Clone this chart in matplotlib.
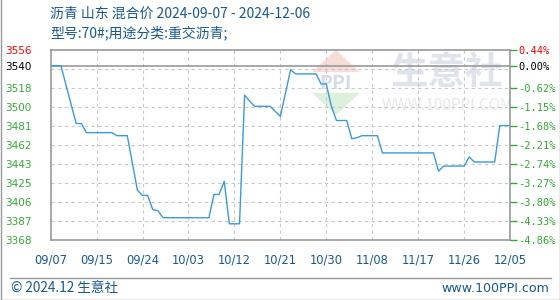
import numpy as np
import matplotlib
matplotlib.use('Agg')
import matplotlib.pyplot as plt
from matplotlib.patches import Polygon

plt.rcParams['font.family'] = ['Noto Sans CJK SC', 'DejaVu Sans']

# daily prices 2024-09-07 .. 2024-12-06
prices = [3540, 3540, 3540, 3521, 3502, 3483, 3483, 3474, 3474, 3474,
          3474, 3474, 3474, 3471, 3471, 3471, 3444, 3417, 3412, 3412,
          3398, 3397, 3390, 3390, 3390, 3390, 3390, 3390, 3390, 3390,
          3390, 3390, 3413, 3413, 3426, 3384, 3384, 3384, 3511, 3505,
          3500, 3500, 3500, 3500, 3495, 3490, 3513, 3536, 3532, 3532,
          3532, 3532, 3532, 3522, 3522, 3500, 3486, 3486, 3486, 3468,
          3469, 3471, 3471, 3471, 3471, 3454, 3454, 3454, 3454, 3454,
          3454, 3454, 3454, 3454, 3454, 3454, 3436, 3441, 3441, 3441,
          3441, 3441, 3450, 3445, 3445, 3445, 3445, 3445, 3481, 3481,
          3481]
base = 3540
ymin, ymax = 3368, 3555.6
grid_vals = list(ymin + (ymax - ymin) / 10 * np.arange(10))
left_labels = ['3368', '3387', '3406', '3425', '3443', '3462', '3481', '3500', '3518']
right_labels = ['-4.86%', '-4.33%', '-3.80%', '-3.27%', '-2.74%', '-2.21%', '-1.68%', '-1.15%', '-0.62%']
date_labels = ['09/07', '09/15', '09/24', '10/03', '10/12', '10/21',
               '10/30', '11/08', '11/17', '11/26', '12/05']

green = '#33aa33'
blue_txt = '#17598f'

fig = plt.figure(figsize=(5.6, 3.0), dpi=100)
ax = fig.add_axes([50.7/560, 60/300, 459.3/560, 190/300])

x = np.arange(len(prices))
ax.set_xlim(0, len(prices) - 1)
ax.set_ylim(ymin, ymax)

# watermark
ax.text(0.863, 0.884, '生意社', transform=ax.transAxes, fontsize=27, color='#dfe3ec',
        ha='center', va='center', fontweight='bold', zorder=0)
ax.text(0.863, 0.71, 'WWW.100PPI.COM', transform=ax.transAxes, fontsize=11,
        color='#e9e9e9', ha='center', va='center', zorder=0)
ax.add_patch(Polygon([[0.569, 0.884], [0.673, 0.884], [0.621, 1.0]], closed=True,
                     transform=ax.transAxes, fc='#f8dcd8', ec='none', zorder=0))
ax.add_patch(Polygon([[0.569, 0.774], [0.673, 0.774], [0.621, 0.658]], closed=True,
                     transform=ax.transAxes, fc='#dcf0dc', ec='none', zorder=0))
ax.text(0.621, 0.826, 'PPI', transform=ax.transAxes, fontsize=14, color='#d5dbe8',
        ha='center', va='center', fontweight='bold', zorder=0)

for g in grid_vals[1:]:
    ax.axhline(g, color='#c8c8c8', lw=0.8, ls=(0, (3, 3)), zorder=1)
for xv in np.linspace(0, len(prices) - 1, 11)[1:-1]:
    ax.axvline(xv, color='#c8c8c8', lw=0.8, ls=(0, (3, 3)), zorder=1)
ax.axhline(base, color='#999999', lw=1.2, zorder=2)

ax.plot(x, prices, color='#3a9ad9', lw=1.0, zorder=3)

for s in ax.spines.values():
    s.set_color('#999999')
    s.set_linewidth(1.2)

ax.set_xticks(np.linspace(0, len(prices) - 1, 11))
ax.set_xticklabels(date_labels, fontsize=8.3, color=blue_txt, family='DejaVu Sans')
ax.tick_params(axis='x', length=0, pad=10)

ax.set_yticks(grid_vals[:9] + [base, ymax])
ax.set_yticklabels(left_labels + ['3540', '3556'], fontsize=7.5, family='DejaVu Sans')
ax.tick_params(axis='y', length=0, pad=33)
for lab, c in zip(ax.get_yticklabels(), [green]*9 + ['black', 'red']):
    lab.set_color(c)
    lab.set_horizontalalignment('left')

ax2 = ax.twinx()
ax2.set_ylim(ymin, ymax)
ax2.set_yticks(grid_vals[:9] + [base, ymax])
ax2.set_yticklabels(right_labels + ['0.00%', '0.44%'], fontsize=7.5, family='DejaVu Sans Mono')
ax2.tick_params(axis='y', length=5, width=1, color=green, pad=1)
for lab, c in zip(ax2.get_yticklabels(), [green]*9 + ['black', 'red']):
    lab.set_color(c)
for s in ax2.spines.values():
    s.set_visible(False)

# title
fig.text(50/560, 1 - 14/300, '沥青 山东 混合价 2024-09-07 - 2024-12-06', fontsize=10,
         color=blue_txt, va='center', ha='left')
fig.text(50/560, 1 - 33/300, '型号:70#;用途分类:重交沥青;', fontsize=10,
         color=blue_txt, va='center', ha='left')

# footer
fig.add_artist(plt.Line2D([10/560, 551/560], [1 - 277.5/300, 1 - 277.5/300],
                          color='#999999', lw=1))
fig.text(11/560, 1 - 288/300, '© 2024.12 生意社', fontsize=9.8, color=blue_txt,
         va='center', ha='left')
fig.text(549/560, 1 - 288/300, 'www.100PPI.com', fontsize=9.1, color=blue_txt,
         va='center', ha='right', family='DejaVu Sans')

# outer border
fig.add_artist(plt.Line2D([0.5/560, 0.5/560, 559.5/560, 559.5/560],
                          [1, 0.5/300, 0.5/300, 1], color='#999999', lw=1))

fig.savefig('out.png', dpi=100)
